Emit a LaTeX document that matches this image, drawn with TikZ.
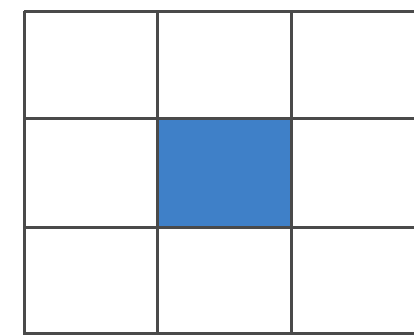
\documentclass[tikz,border=0pt]{standalone}
\usepackage{xcolor}
\definecolor{cCell}{HTML}{3F80C8}
\definecolor{cLine}{HTML}{4A4A4A}
\usepackage{tikz}
\tikzset{
  grid-line/.style={draw=cLine,line width=3pt},
  cell-hi/.style={fill=cCell},
}
\begin{document}
\begin{tikzpicture}[x=1pt,y=-1pt]
  \useasboundingbox (0,0) rectangle (414,335);
  % highlighted centre cell
  \fill[cell-hi] (157,118) rectangle (291,227);
  % vertical lines
  \foreach \x in {24,157,291}
    \draw[grid-line] (\x,11) -- (\x,335);
  % horizontal lines
  \foreach \y in {11,118,227,333}
    \draw[grid-line] (24,\y) -- (414,\y);
\end{tikzpicture}
\end{document}
